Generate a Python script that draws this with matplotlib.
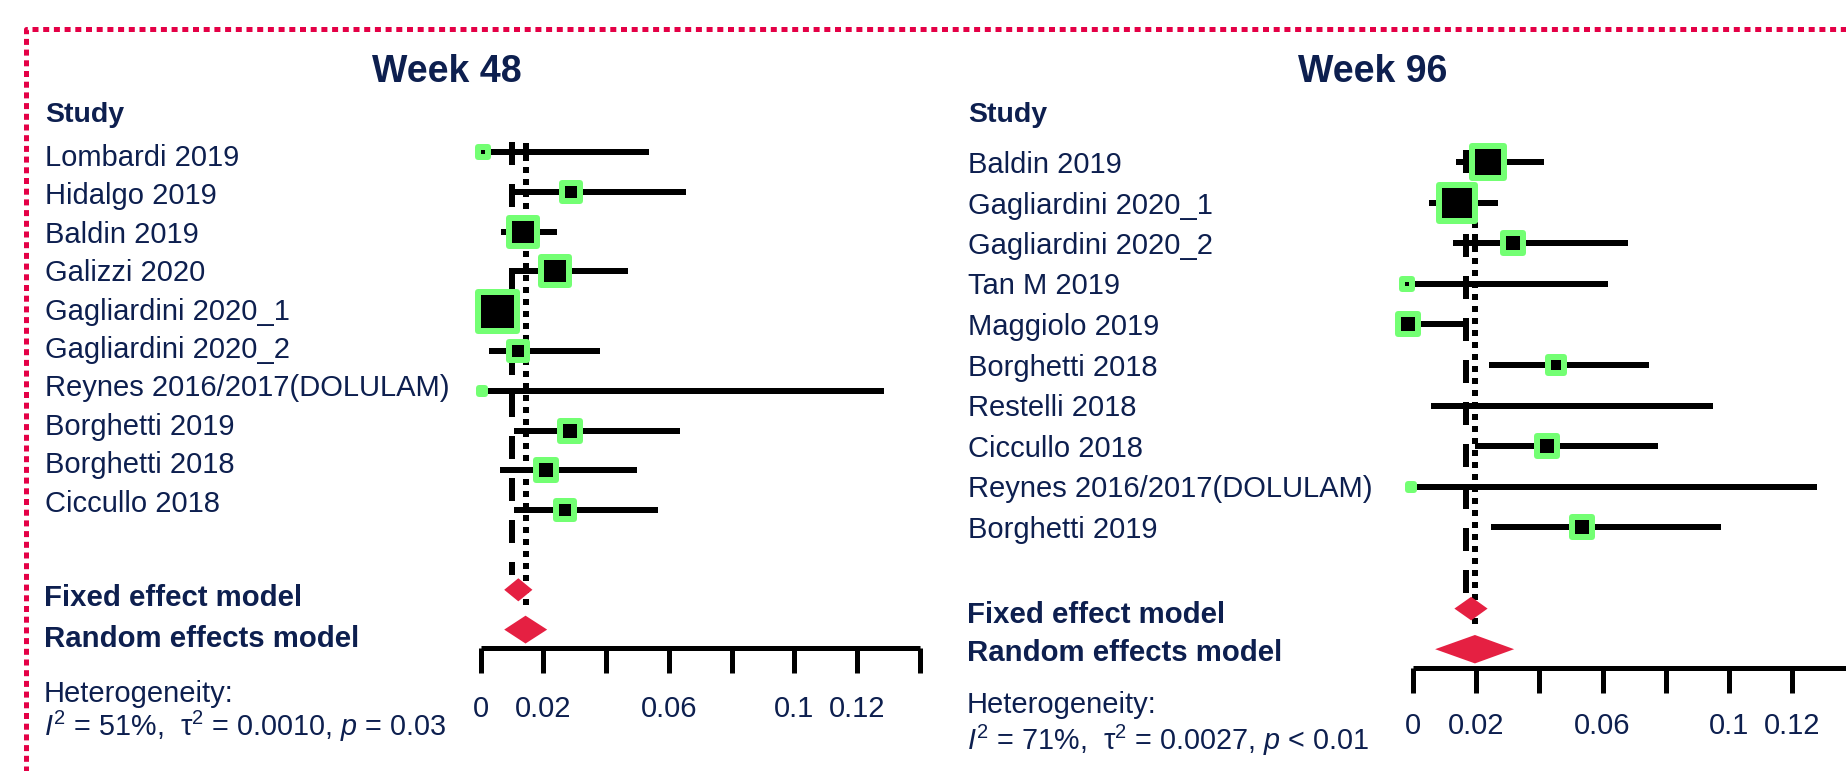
import matplotlib
matplotlib.use("Agg")
import matplotlib.pyplot as plt
import numpy as np
from matplotlib.lines import Line2D
from matplotlib.markers import MarkerStyle

plt.rcParams['font.family'] = ['Liberation Sans', 'DejaVu Sans']
plt.rcParams['mathtext.fontset'] = 'custom'
plt.rcParams['mathtext.rm'] = 'Liberation Sans'
plt.rcParams['mathtext.it'] = 'Liberation Sans:italic'
plt.rcParams['mathtext.bf'] = 'Liberation Sans:bold'
plt.rcParams['lines.scale_dashes'] = False

# ---------------- data ----------------
w48_studies = ["Lombardi 2019", "Hidalgo 2019", "Baldin 2019", "Galizzi 2020",
               "Gagliardini 2020_1", "Gagliardini 2020_2", "Reynes 2016/2017(DOLULAM)",
               "Borghetti 2019", "Borghetti 2018", "Ciccullo 2018"]
w48_est = [0.0007, 0.0288, 0.0135, 0.0237, 0.0051, 0.0118, 0.0004, 0.0285, 0.0208, 0.0269]
w48_lo = [0.0, 0.0099, 0.0064, 0.0094, 0.0030, 0.0027, 0.0, 0.0106, 0.0062, 0.0106]
w48_hi = [0.0537, 0.0655, 0.0243, 0.0470, 0.0075, 0.0380, 0.1286, 0.0636, 0.0497, 0.0565]
w48_weight = [0.5, 5.6, 17.5, 16.0, 36.1, 5.6, 0.03, 6.5, 6.5, 5.6]
w48_fixed = (0.0075, 0.0120, 0.0165)
w48_random = (0.0075, 0.0143, 0.0212)
w48_fixed_line = 0.0100
w48_random_line = 0.0143
w48_het = r"$\mathit{I}^2$ = 51%,  τ$^2$ = 0.0010, $\mathit{p}$ = 0.03"

w96_studies = ["Baldin 2019", "Gagliardini 2020_1", "Gagliardini 2020_2", "Tan M 2019",
               "Maggiolo 2019", "Borghetti 2018", "Restelli 2018", "Ciccullo 2018",
               "Reynes 2016/2017(DOLULAM)", "Borghetti 2019"]
w96_est = [0.0236, 0.0138, 0.0316, -0.0018, -0.0017, 0.0452, np.nan, 0.0423, -0.0007, 0.0534]
w96_lo = [0.0136, 0.0051, 0.0126, -0.0018, -0.0017, 0.0241, 0.0057, 0.0196, -0.0007, 0.0248]
w96_hi = [0.0416, 0.0270, 0.0681, 0.0618, 0.0165, 0.0747, 0.0949, 0.0774, 0.1278, 0.0975]
w96_weight = [28.0, 37.2, 8.1, 0.7, 7.0, 5.0, 0.0, 7.0, 0.04, 7.0]
w96_fixed = (0.0131, 0.0184, 0.0236)
w96_random = (0.0070, 0.0196, 0.0320)
w96_fixed_line = 0.0168
w96_random_line = 0.0196
w96_het = r"$\mathit{I}^2$ = 71%,  τ$^2$ = 0.0027, $\mathit{p}$ < 0.01"

tick_values = [0, 0.02, 0.04, 0.06, 0.08, 0.10, 0.12, 0.14]
tick_labels = ["0", "0.02", "", "0.06", "", "0.1", "0.12", ""]

# ---------------- style ----------------
W, H = 1846, 771
NAVY = "#0D1F4F"
GREEN = "#73FF73"
RED = "#E52042"
BORDER = "#E40046"
PX = 0.72  # points per pixel at dpi 100
SQUARE = MarkerStyle("s", joinstyle="round")

fig = plt.figure(figsize=(W / 100, H / 100), dpi=100)
fig.patch.set_facecolor("white")


def fx(px):
    return px / W


def fy(py):
    return 1 - py / H


def make_axes(x0px, scale, row0px, rowstep, xlim, top_px, bottom_px, pad):
    left = x0px + xlim[0] * scale
    right = x0px + xlim[1] * scale
    r_top = (top_px - row0px) / rowstep
    r_bot = (bottom_px - row0px) / rowstep
    ax = fig.add_axes([fx(left), fy(bottom_px), (right - left) / W, (bottom_px - top_px) / H])
    ax.set_xlim(*xlim)
    ax.set_ylim(r_bot, r_top)
    ax.patch.set_alpha(0)
    for s in ["top", "right", "left"]:
        ax.spines[s].set_visible(False)
    ax.spines["bottom"].set_linewidth(5 * PX)
    ax.spines["bottom"].set_bounds(0, 0.14)
    ax.spines["bottom"].set_capstyle("butt")
    ax.set_yticks([])
    ax.set_xticks(tick_values)
    ax.set_xticklabels(tick_labels)
    ax.tick_params(axis="x", direction="out", length=25 * PX, width=5 * PX,
                   labelsize=21, labelcolor=NAVY, pad=pad)
    return ax


def draw_panel(ax, studies, est, lo, hi, weight, fixed, random, fline, rline,
               max_side_px, dash_span, dot_span, label_x, label_y0, label_step):
    n = len(studies)
    rows = np.arange(n)
    wmax = max(weight)
    # reference lines
    ax.plot([fline, fline], dash_span, color="black", lw=6 * PX,
            dashes=(23 * PX, 19 * PX), solid_capstyle="butt", dash_capstyle="butt",
            zorder=1, clip_on=False)
    ax.plot([rline, rline], dot_span, color="black", lw=6 * PX,
            dashes=(6 * PX, 6 * PX), dash_capstyle="butt", zorder=1, clip_on=False)
    for i in rows:
        ax.plot([lo[i], hi[i]], [i, i], color="black", lw=6 * PX,
                solid_capstyle="butt", zorder=2, clip_on=False)
        if weight[i] > 0 and not np.isnan(est[i]):
            inner = max_side_px * np.sqrt(weight[i] / wmax)
            ax.plot(est[i], i, marker=SQUARE, ms=(inner + 6) * PX, mfc="black",
                    mec=GREEN, mew=6 * PX, zorder=3, clip_on=False)
    # diamonds
    for (l, m, h), y, hh in [(fixed, n + 1.0, 0.29), (random, n + 2.0, 0.35)]:
        ax.fill([l, m, h, m], [y, y - hh, y, y + hh], color=RED, lw=0, zorder=4,
                clip_on=False)
    for i, s in enumerate(studies):
        fig.text(fx(label_x), fy(label_y0 + i * label_step), s, fontsize=21,
                 color=NAVY, va="center", ha="left")


# Week 48 panel
ax1 = make_axes(480.7, 3135, 152, 39.8, (-0.032, 0.147), 110, 648, 16)
draw_panel(ax1, w48_studies, w48_est, w48_lo, w48_hi, w48_weight, w48_fixed,
           w48_random, w48_fixed_line, w48_random_line, 33,
           [-0.25, 10.63], [-0.23, 11.53], 45, 158, 38.4)

# Week 96 panel
ax2 = make_axes(1413, 3160, 162, 40.6, (-0.032, 0.15), 110, 668, 14)
draw_panel(ax2, w96_studies, w96_est, w96_lo, w96_hi, w96_weight, w96_fixed,
           w96_random, w96_fixed_line, w96_random_line, 30,
           [-0.3, 10.7], [-0.3, 11.45], 968, 165, 40.5)

# headers
fig.text(fx(447), fy(72), "Week 48", fontsize=27, fontweight="bold", color=NAVY,
         ha="center", va="center")
fig.text(fx(1373), fy(72), "Week 96", fontsize=27, fontweight="bold", color=NAVY,
         ha="center", va="center")
fig.text(fx(45), fy(115), "Study", fontsize=20.5, fontweight="bold", color=NAVY,
         ha="left", va="center")
fig.text(fx(968), fy(115), "Study", fontsize=20.5, fontweight="bold", color=NAVY,
         ha="left", va="center")

# bottom texts
for x0, ys, het in [(44, (606, 647, 702, 736), w48_het), (967, (623, 661, 713, 750), w96_het)]:
    fig.text(fx(x0), fy(ys[0]), "Fixed effect model", fontsize=21.2, fontweight="bold",
             color=NAVY, ha="left", va="baseline")
    fig.text(fx(x0), fy(ys[1]), "Random effects model", fontsize=21.2, fontweight="bold",
             color=NAVY, ha="left", va="baseline")
    fig.text(fx(x0), fy(ys[2]), "Heterogeneity:", fontsize=21, color=NAVY,
             ha="left", va="baseline")
    fig.text(fx(x0), fy(ys[3]), het, fontsize=20.7, color=NAVY, ha="left", va="baseline")

# dotted border
fig.add_artist(Line2D([fx(26), fx(26), fx(W + 20)], [fy(H + 20), fy(29), fy(29)],
                      transform=fig.transFigure, color=BORDER, lw=5 * PX,
                      dashes=(6 * PX, 4.7 * PX), dash_capstyle="butt",
                      solid_joinstyle="miter"))

fig.savefig("out.png", dpi=100, facecolor="white")
